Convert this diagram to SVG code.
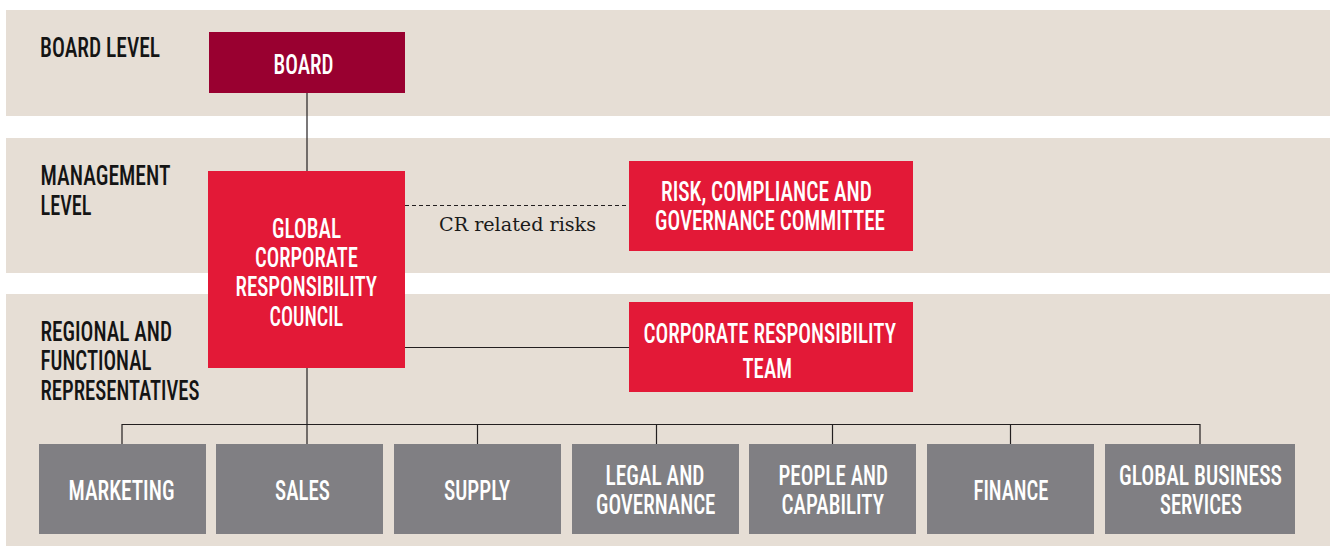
<svg xmlns="http://www.w3.org/2000/svg" width="1330" height="546" viewBox="0 0 1330 546">
<style>
.band{fill:#E6DED5}
.lbl{font-family:"Roboto Condensed",Roboto,"Liberation Sans",sans-serif;font-weight:500;font-size:28px;fill:#141414}
.wt{font-family:"Roboto Condensed",Roboto,"Liberation Sans",sans-serif;font-weight:500;font-size:28px;fill:#ffffff}
.board{fill:#990030}
.red{fill:#E31937}
.grey{fill:#807F83}
.ln{stroke:#231F20;stroke-width:1.2;fill:none}
.dash{stroke:#231F20;stroke-width:1.2;stroke-dasharray:4 3;fill:none}
.cr{font-family:"DejaVu Serif","Liberation Serif",serif;font-size:19px;fill:#1a1a1a}
</style>
<rect width="1330" height="546" fill="#ffffff"/>
<g id="bands">
<rect class="band" x="6" y="10" width="1324" height="106"/>
<rect class="band" x="6" y="138" width="1324" height="135"/>
<rect class="band" x="6" y="294" width="1324" height="252"/>
<text class="lbl" x="40" y="57" textLength="120" lengthAdjust="spacingAndGlyphs">BOARD LEVEL</text>
<text class="lbl" x="40.5" y="185" textLength="130" lengthAdjust="spacingAndGlyphs">MANAGEMENT</text>
<text class="lbl" x="40.5" y="214.5" textLength="51" lengthAdjust="spacingAndGlyphs">LEVEL</text>
<text class="lbl" x="40.5" y="340.5" textLength="131.5" lengthAdjust="spacingAndGlyphs">REGIONAL AND</text>
<text class="lbl" x="40.5" y="370" textLength="111" lengthAdjust="spacingAndGlyphs">FUNCTIONAL</text>
<text class="lbl" x="40.5" y="399.5" textLength="159" lengthAdjust="spacingAndGlyphs">REPRESENTATIVES</text>
</g>
<g id="connectors">
<line class="ln" x1="307" y1="92" x2="307" y2="444"/>
<line class="dash" x1="405" y1="205.5" x2="629" y2="205.5"/>
<text class="cr" x="439" y="230.5" textLength="157" lengthAdjust="spacingAndGlyphs">CR related risks</text>
<line class="ln" x1="405" y1="347.5" x2="629" y2="347.5"/>
<polyline class="ln" points="122,444 122,424.5 1200,424.5 1200,444"/>
<line class="ln" x1="477.5" y1="424.5" x2="477.5" y2="444"/>
<line class="ln" x1="656.5" y1="424.5" x2="656.5" y2="444"/>
<line class="ln" x1="832.5" y1="424.5" x2="832.5" y2="444"/>
<line class="ln" x1="1010.5" y1="424.5" x2="1010.5" y2="444"/>
</g>
<g id="node-board">
<rect class="board" x="209" y="32" width="196" height="61"/>
<text class="wt" x="273.5" y="74" textLength="60" lengthAdjust="spacingAndGlyphs">BOARD</text>
</g>
<g id="node-gcrc">
<rect class="red" x="208" y="171" width="197" height="197"/>
<text class="wt" x="272" y="237.5" textLength="69" lengthAdjust="spacingAndGlyphs">GLOBAL</text>
<text class="wt" x="255" y="266.5" textLength="103" lengthAdjust="spacingAndGlyphs">CORPORATE</text>
<text class="wt" x="235.5" y="296" textLength="141.5" lengthAdjust="spacingAndGlyphs">RESPONSIBILITY</text>
<text class="wt" x="269.5" y="325.5" textLength="73.5" lengthAdjust="spacingAndGlyphs">COUNCIL</text>
</g>
<g id="node-rcgc">
<rect class="red" x="629" y="161" width="284" height="90"/>
<text class="wt" x="661" y="200.5" textLength="211" lengthAdjust="spacingAndGlyphs">RISK, COMPLIANCE AND</text>
<text class="wt" x="655" y="229.5" textLength="230" lengthAdjust="spacingAndGlyphs">GOVERNANCE COMMITTEE</text>
</g>
<g id="node-crt">
<rect class="red" x="629" y="302" width="284" height="90"/>
<text class="wt" x="643.5" y="342.5" textLength="252.5" lengthAdjust="spacingAndGlyphs">CORPORATE RESPONSIBILITY</text>
<text class="wt" x="742.5" y="377.5" textLength="49.5" lengthAdjust="spacingAndGlyphs">TEAM</text>
</g>
<g id="node-marketing">
<rect class="grey" x="39" y="444" width="167" height="90"/>
<text class="wt" x="68.5" y="500" textLength="106" lengthAdjust="spacingAndGlyphs">MARKETING</text>
</g>
<g id="node-sales">
<rect class="grey" x="216" y="444" width="167" height="90"/>
<text class="wt" x="275" y="500" textLength="55" lengthAdjust="spacingAndGlyphs">SALES</text>
</g>
<g id="node-supply">
<rect class="grey" x="394" y="444" width="167" height="90"/>
<text class="wt" x="444" y="500" textLength="66" lengthAdjust="spacingAndGlyphs">SUPPLY</text>
</g>
<g id="node-legal">
<rect class="grey" x="572" y="444" width="167" height="90"/>
<text class="wt" x="605.5" y="484.5" textLength="99" lengthAdjust="spacingAndGlyphs">LEGAL AND</text>
<text class="wt" x="596" y="513.5" textLength="119.5" lengthAdjust="spacingAndGlyphs">GOVERNANCE</text>
</g>
<g id="node-people">
<rect class="grey" x="749" y="444" width="167" height="90"/>
<text class="wt" x="778.5" y="484.5" textLength="109.5" lengthAdjust="spacingAndGlyphs">PEOPLE AND</text>
<text class="wt" x="781.5" y="513.5" textLength="102.5" lengthAdjust="spacingAndGlyphs">CAPABILITY</text>
</g>
<g id="node-finance">
<rect class="grey" x="927" y="444" width="167" height="90"/>
<text class="wt" x="973.5" y="499.5" textLength="75" lengthAdjust="spacingAndGlyphs">FINANCE</text>
</g>
<g id="node-gbs">
<rect class="grey" x="1105" y="444" width="190" height="90"/>
<text class="wt" x="1119" y="485" textLength="163" lengthAdjust="spacingAndGlyphs">GLOBAL BUSINESS</text>
<text class="wt" x="1160" y="513.5" textLength="82" lengthAdjust="spacingAndGlyphs">SERVICES</text>
</g>
</svg>
